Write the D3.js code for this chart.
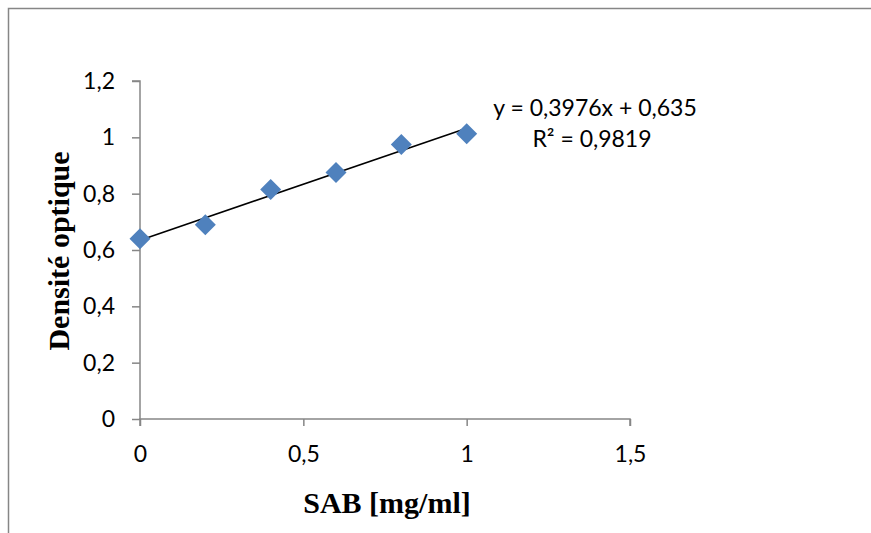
<!DOCTYPE html>
<html>
<head>
<meta charset="utf-8">
<script src="https://cdn.jsdelivr.net/npm/d3@7"></script>
<style>
html,body{margin:0;padding:0;background:#fff;overflow:hidden;}
svg{display:block;}
</style>
</head>
<body>
<svg id="chart" width="871" height="533"></svg>
<script>
// Data
const xValues = [0, 0.2, 0.4, 0.6, 0.8, 1.0];
const yValues = [0.64, 0.69, 0.815, 0.875, 0.975, 1.013];
const xTicks = [0, 0.5, 1, 1.5];
const yTicks = [0, 0.2, 0.4, 0.6, 0.8, 1, 1.2];
const trendSlope = 0.3976;
const trendIntercept = 0.635;
const equationLabel = "y = 0,3976x + 0,635";
const r2Label = "R² = 0,9819";
const xTitle = "SAB [mg/ml]";
const yTitle = "Densité optique";

const fmt = v => String(v).replace(".", ",");

const svg = d3.select("#chart");

// outer frame (only top and left edges visible)
svg.append("path")
  .attr("d", "M8.5,533V8.5H871")
  .attr("fill", "none").attr("stroke", "#868686").attr("stroke-width", 1.5);

const x = d3.scaleLinear().domain([0, 1.5]).range([140, 630]);
const y = d3.scaleLinear().domain([0, 1.2]).range([419, 81]);

const tickFont = "Lato, 'Open Sans', sans-serif";
const tickSize = "23px";
const axisColor = "#868686";

// Y axis
const gy = svg.append("g").attr("transform", `translate(${x(0)},0)`)
  .call(d3.axisLeft(y).tickValues(yTicks).tickFormat(fmt).tickSize(8).tickPadding(17));
// X axis
const gx = svg.append("g").attr("transform", `translate(0,${y(0)})`)
  .call(d3.axisBottom(x).tickValues(xTicks).tickFormat(fmt).tickSize(7));

[gx, gy].forEach(g => {
  g.select(".domain").attr("stroke", axisColor).attr("stroke-width", 1.5);
  g.selectAll(".tick line").attr("stroke", axisColor).attr("stroke-width", 1.5);
  g.selectAll(".tick text").attr("fill", "#000")
    .style("font-family", tickFont).style("font-size", tickSize);
});
gx.selectAll(".tick text").attr("y", 43).attr("dy", 0);
gy.select(".domain").attr("d", `M-8,${y(1.2)}H0V${y(0)}`);
gx.select(".domain").attr("d", `M${x(0)},7V0H${x(1.5)}V7`);

// trendline
const line = d3.line().x(d => x(d)).y(d => y(trendSlope * d + trendIntercept));
svg.append("path").datum([0, 1]).attr("d", line)
  .attr("stroke", "#000").attr("stroke-width", 1.6).attr("fill", "none");

// markers
svg.selectAll("path.pt").data(xValues).enter().append("path")
  .attr("class", "pt")
  .attr("d", () => {
    const r = 10.5;
    return `M0,${-r}L${r},0L0,${r}L${-r},0Z`;
  })
  .attr("transform", (d, i) => `translate(${x(d)},${y(yValues[i])})`)
  .attr("fill", "#4F81BD");

// equation
svg.append("text").attr("x", 595).attr("y", 116).attr("text-anchor", "middle")
  .style("font-family", tickFont).style("font-size", tickSize).text(equationLabel);
svg.append("text").attr("x", 592).attr("y", 147).attr("text-anchor", "middle")
  .style("font-family", tickFont).style("font-size", tickSize).text(r2Label);

// axis titles
svg.append("text").attr("x", 387).attr("y", 513).attr("text-anchor", "middle")
  .style("font-family", "'Liberation Serif', 'Times New Roman', serif")
  .style("font-weight", "bold").style("font-size", "30px").text(xTitle);
svg.append("text").attr("transform", "translate(69,251) rotate(-90)").attr("text-anchor", "middle")
  .style("font-family", "'Liberation Serif', 'Times New Roman', serif")
  .style("font-weight", "bold").style("font-size", "30px").text(yTitle);
</script>
</body>
</html>
